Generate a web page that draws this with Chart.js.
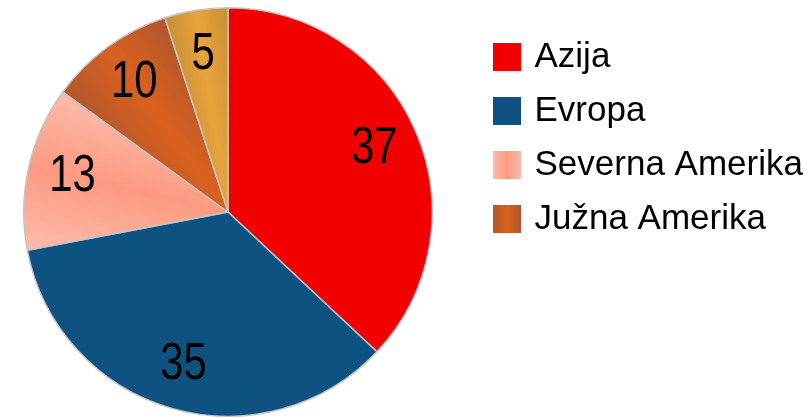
<!DOCTYPE html>
<html>
<head>
<meta charset="utf-8">
<script src="https://cdn.jsdelivr.net/npm/chart.js@4.4.1/dist/chart.umd.min.js"></script>
<style>
  html, body { margin: 0; padding: 0; background: #fff; }
</style>
</head>
<body>
<canvas id="pie" width="805" height="417"></canvas>
<script>
// data
const categories = ['Azija', 'Evropa', 'Severna Amerika', 'Južna Amerika', 'Ostalo'];
const shares = [37, 35, 13, 10, 5];
const legendCount = 4; // the last slice has no legend entry
const sliceColors = ['#F20000', '#0E5282', '#FCA38C', '#CC5B24', '#DD9B38'];
// edge / middle colours for the shaded slices (null = flat)
const sliceShades = [null, null, ['#FDBCAB', '#FC9A81'], ['#B2562D', '#D9611F'], ['#C98E36', '#E8A33C']];

const family = '"Liberation Sans", Arial, sans-serif';
const F = 35;          // legend font size
const rowGap = 54 - F; // legend row pitch is 54px
const legendLeft = 456; // pie area is 0..456, so the pie sits at x=228
const psw = 42;        // room for the swatch + gap before the text

// legend swatch: 28px square drawn at the right end of a wider transparent canvas
function swatch(c1, c2) {
  const c = document.createElement('canvas');
  c.width = 50; c.height = 28;
  const g = c.getContext('2d');
  if (c2) {
    const lg = g.createLinearGradient(22, 0, 50, 0);
    lg.addColorStop(0, c1); lg.addColorStop(0.5, c2); lg.addColorStop(1, c1);
    g.fillStyle = lg;
  } else {
    g.fillStyle = c1;
  }
  g.fillRect(22, 0, 28, 28);
  return c;
}
const swatches = categories.slice(0, legendCount).map((_, i) =>
  sliceShades[i] ? swatch(sliceShades[i][0], sliceShades[i][1]) : swatch(sliceColors[i]));

function sliceFill(ctx) {
  const i = ctx.dataIndex;
  const shade = sliceShades[i];
  const arc = ctx.element;
  if (!shade || !arc || !arc.outerRadius) return sliceColors[i];
  const m = (arc.startAngle + arc.endAngle) / 2;
  const h = (arc.endAngle - arc.startAngle) / 2;
  const w = arc.outerRadius * Math.sin(Math.min(h, Math.PI / 2));
  const ux = Math.cos(m + Math.PI / 2), uy = Math.sin(m + Math.PI / 2);
  const g = ctx.chart.ctx.createLinearGradient(arc.x - ux * w, arc.y - uy * w, arc.x + ux * w, arc.y + uy * w);
  g.addColorStop(0, shade[0]);
  g.addColorStop(0.5, shade[1]);
  g.addColorStop(1, shade[0]);
  return g;
}

const sliceLabels = {
  id: 'sliceLabels',
  afterDatasetsDraw(chart) {
    const ctx = chart.ctx;
    const arcs = chart.getDatasetMeta(0).data;
    ctx.save();
    ctx.fillStyle = '#000';
    ctx.textAlign = 'center';
    ctx.textBaseline = 'middle';
    ctx.font = '51px ' + family;
    arcs.forEach((arc, i) => {
      const p = arc.getProps(['x', 'y', 'startAngle', 'endAngle', 'outerRadius'], true);
      const mid = (p.startAngle + p.endAngle) / 2;
      const r = p.outerRadius * 0.78;
      ctx.save();
      ctx.translate(p.x + Math.cos(mid) * r, p.y + Math.sin(mid) * r);
      ctx.scale(0.82, 1); // narrow face like the original
      ctx.fillText(String(shares[i]), 0, 0);
      ctx.restore();
    });
    ctx.restore();
  }
};

const chart = new Chart(document.getElementById('pie'), {
  type: 'pie',
  data: {
    labels: categories,
    datasets: [{
      data: shares,
      backgroundColor: sliceFill,
      borderColor: '#C4C4C4',
      borderWidth: 1.5,
      hoverOffset: 0,
      offset: 0
    }]
  },
  options: {
    responsive: false,
    animation: false,
    devicePixelRatio: 1,
    layout: {
      padding: { top: 7, bottom: 0, left: 0, right: 0 }
    },
    plugins: {
      tooltip: { enabled: false },
      legend: {
        position: 'right',
        align: 'start',
        maxWidth: 805 - legendLeft,
        title: {
          display: true,
          text: '',
          font: { size: F / 2 - 6, lineHeight: 1 },
          padding: { top: 1, bottom: 1 }
        },
        labels: {
          usePointStyle: true,
          pointStyleWidth: psw,
          padding: rowGap,
          color: '#000',
          font: { family: family, size: F },
          generateLabels: () => categories.slice(0, legendCount).map((name, i) => ({
            text: name,
            fillStyle: sliceColors[i],
            strokeStyle: sliceColors[i],
            fontColor: '#000',
            lineWidth: 0,
            pointStyle: swatches[i],
            hidden: false,
            index: i
          }))
        }
      }
    }
  },
  plugins: [sliceLabels]
});
// second pass so the gradients can use the laid-out arcs
chart.update('none');
</script>
</body>
</html>
